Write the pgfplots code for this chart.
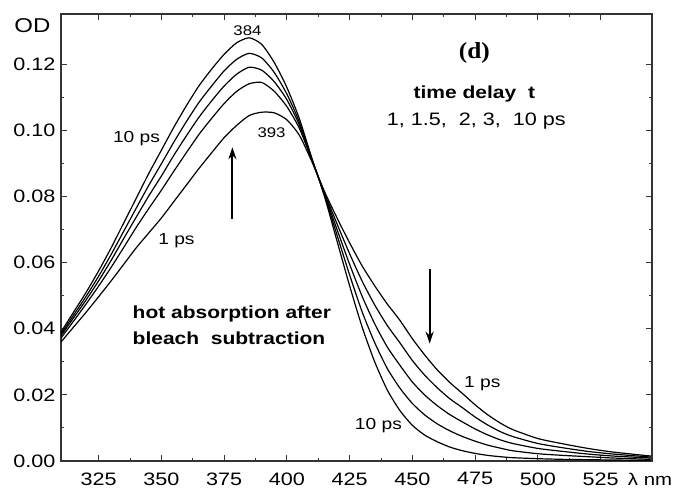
\documentclass[border=0pt]{standalone}
\usepackage{pgfplots}
\pgfplotsset{compat=1.18}
\usepackage{pgfplotstable}
\usetikzlibrary{arrows.meta}
\usepackage{fontspec}
\setmainfont{Liberation Sans}[FakeStretch=1.2]
\newfontfamily\serifbf{Liberation Serif}[FakeStretch=1.1]

\pgfplotstableread{
x      A       B       C       D       E
310 0.0390 0.0384 0.0379 0.0372 0.0360
315 0.0450 0.0441 0.0433 0.0423 0.0405
320 0.0510 0.0498 0.0487 0.0475 0.0450
325 0.0575 0.0559 0.0545 0.0529 0.0497
330 0.0645 0.0625 0.0607 0.0586 0.0545
335 0.0720 0.0695 0.0673 0.0646 0.0595
340 0.0795 0.0765 0.0738 0.0707 0.0645
345 0.0870 0.0834 0.0802 0.0764 0.0690
350 0.0940 0.0899 0.0862 0.0819 0.0735
355 0.1010 0.0965 0.0925 0.0877 0.0785
360 0.1075 0.1027 0.0984 0.0933 0.0835
365 0.1135 0.1085 0.1040 0.0988 0.0885
370 0.1185 0.1134 0.1089 0.1036 0.0932
375 0.1230 0.1180 0.1134 0.1081 0.0978
380 0.1265 0.1215 0.1170 0.1118 0.1015
385 0.1280 0.1233 0.1191 0.1141 0.1045
390 0.1260 0.1219 0.1182 0.1145 0.1055
395 0.1205 0.1175 0.1147 0.1118 0.1053
400 0.1130 0.1110 0.1093 0.1072 0.1032
405 0.1035 0.1025 0.1016 0.1006 0.0985
410 0.0915 0.0913 0.0911 0.0909 0.0905
415 0.0800 0.0804 0.0807 0.0811 0.0815
420 0.0665 0.0683 0.0700 0.0717 0.0735
425 0.0530 0.0563 0.0595 0.0627 0.0660
430 0.0405 0.0451 0.0498 0.0544 0.0590
435 0.0300 0.0358 0.0415 0.0472 0.0530
440 0.0215 0.0280 0.0345 0.0410 0.0475
445 0.0153 0.0221 0.0290 0.0358 0.0426
450 0.0108 0.0174 0.0239 0.0304 0.0370
455 0.0078 0.0139 0.0199 0.0259 0.0320
460 0.0058 0.0112 0.0167 0.0221 0.0275
465 0.0042 0.0091 0.0140 0.0188 0.0237
470 0.0031 0.0074 0.0118 0.0161 0.0204
475 0.0023 0.0060 0.0097 0.0133 0.0170
480 0.0017 0.0048 0.0079 0.0109 0.0140
485 0.0013 0.0039 0.0064 0.0089 0.0115
490 0.0010 0.0031 0.0053 0.0074 0.0095
500 0.0007 0.0022 0.0038 0.0053 0.0068
510 0.0005 0.0017 0.0029 0.0040 0.0052
520 0.0004 0.0013 0.0021 0.0029 0.0038
530 0.0003 0.0009 0.0015 0.0021 0.0027
545 0.0002 0.0005 0.0009 0.0012 0.0015
}\spectra

\begin{document}
\begin{tikzpicture}
\begin{axis}[
  at={(0,0)}, anchor=south west,
  scale only axis, width=591pt, height=447pt,
  xmin=310, xmax=545.5, ymin=0, ymax=0.1352,
  xtick={325,350,...,525}, minor x tick num=1,
  ytick={0,0.02,0.04,0.06,0.08,0.10,0.12}, minor y tick num=1,
  scaled y ticks=false,
  tick align=inside, xtick pos=both, ytick pos=both,
  xticklabel pos=lower, yticklabel pos=left,
  major tick length=6pt, minor tick length=3.5pt,
  axis line style={black!80, line width=1.1pt},
  every tick/.style={black!80, line width=0.9pt},
  tick label style={font=\fontsize{18}{18}\selectfont},
  /pgf/number format/assume math mode=true,
  yticklabel style={xshift=-2pt, /pgf/number format/.cd, fixed, fixed zerofill, precision=2},
  xticklabel style={yshift=-8pt},
  clip=false,
]
\addplot[black, line width=1.2pt, smooth, tension=0.4] table[x=x, y=A] {\spectra};
\addplot[black, line width=1.2pt, smooth, tension=0.4] table[x=x, y=B] {\spectra};
\addplot[black, line width=1.2pt, smooth, tension=0.4] table[x=x, y=C] {\spectra};
\addplot[black, line width=1.2pt, smooth, tension=0.4] table[x=x, y=D] {\spectra};
\addplot[black, line width=1.2pt, smooth, tension=0.4] table[x=x, y=E] {\spectra};

\node[font=\fontsize{20}{20}\selectfont] at (axis cs:298.6,0.1318) {OD};
\node[font=\fontsize{14}{14}\selectfont] at (axis cs:384.3,0.1303) {384};
\node[font=\fontsize{14}{14}\selectfont] at (axis cs:393.9,0.0994) {393};
\node[font=\fontsize{16}{16}\selectfont] at (axis cs:340.1,0.0975) {10 ps};
\node[font=\fontsize{16}{16}\selectfont] at (axis cs:356,0.0667) {1 ps};
\node[font=\fontsize{16}{16}\selectfont] at (axis cs:477.9,0.0235) {1 ps};
\node[font=\fontsize{16}{16}\selectfont] at (axis cs:436.5,0.0108) {10 ps};
\draw[-{Stealth[length=12pt,width=8pt]}, line width=2pt] (axis cs:378.3,0.0733) -- (axis cs:378.3,0.0949);
\draw[-{Stealth[length=12pt,width=8pt]}, line width=2pt] (axis cs:456.9,0.0582) -- (axis cs:456.9,0.0355);
\node[font=\serifbf\bfseries\fontsize{23}{23}\selectfont] at (axis cs:474.7,0.1233) {(d)};
\node[font=\bfseries\fontsize{17.5}{17.5}\selectfont] at (axis cs:474.7,0.1110) {time delay\ \ t};
\node[font=\fontsize{18}{18}\selectfont] at (axis cs:475.5,0.1028) {1, 1.5,\ \ 2, 3,\ \ 10 ps};
\node[font=\bfseries\fontsize{17.5}{26}\selectfont, align=left, anchor=west, inner sep=0pt] at (axis cs:338.5,0.0410) {hot absorption after\\bleach\ \ subtraction};
\node[font=\fontsize{17}{17}\selectfont] at ([xshift=-2pt,yshift=-18pt]rel axis cs:1,0) {λ nm};
\end{axis}
\pgfresetboundingbox
\path[use as bounding box] (-61pt,-30pt) rectangle (617pt,461pt);
\end{tikzpicture}
\end{document}
